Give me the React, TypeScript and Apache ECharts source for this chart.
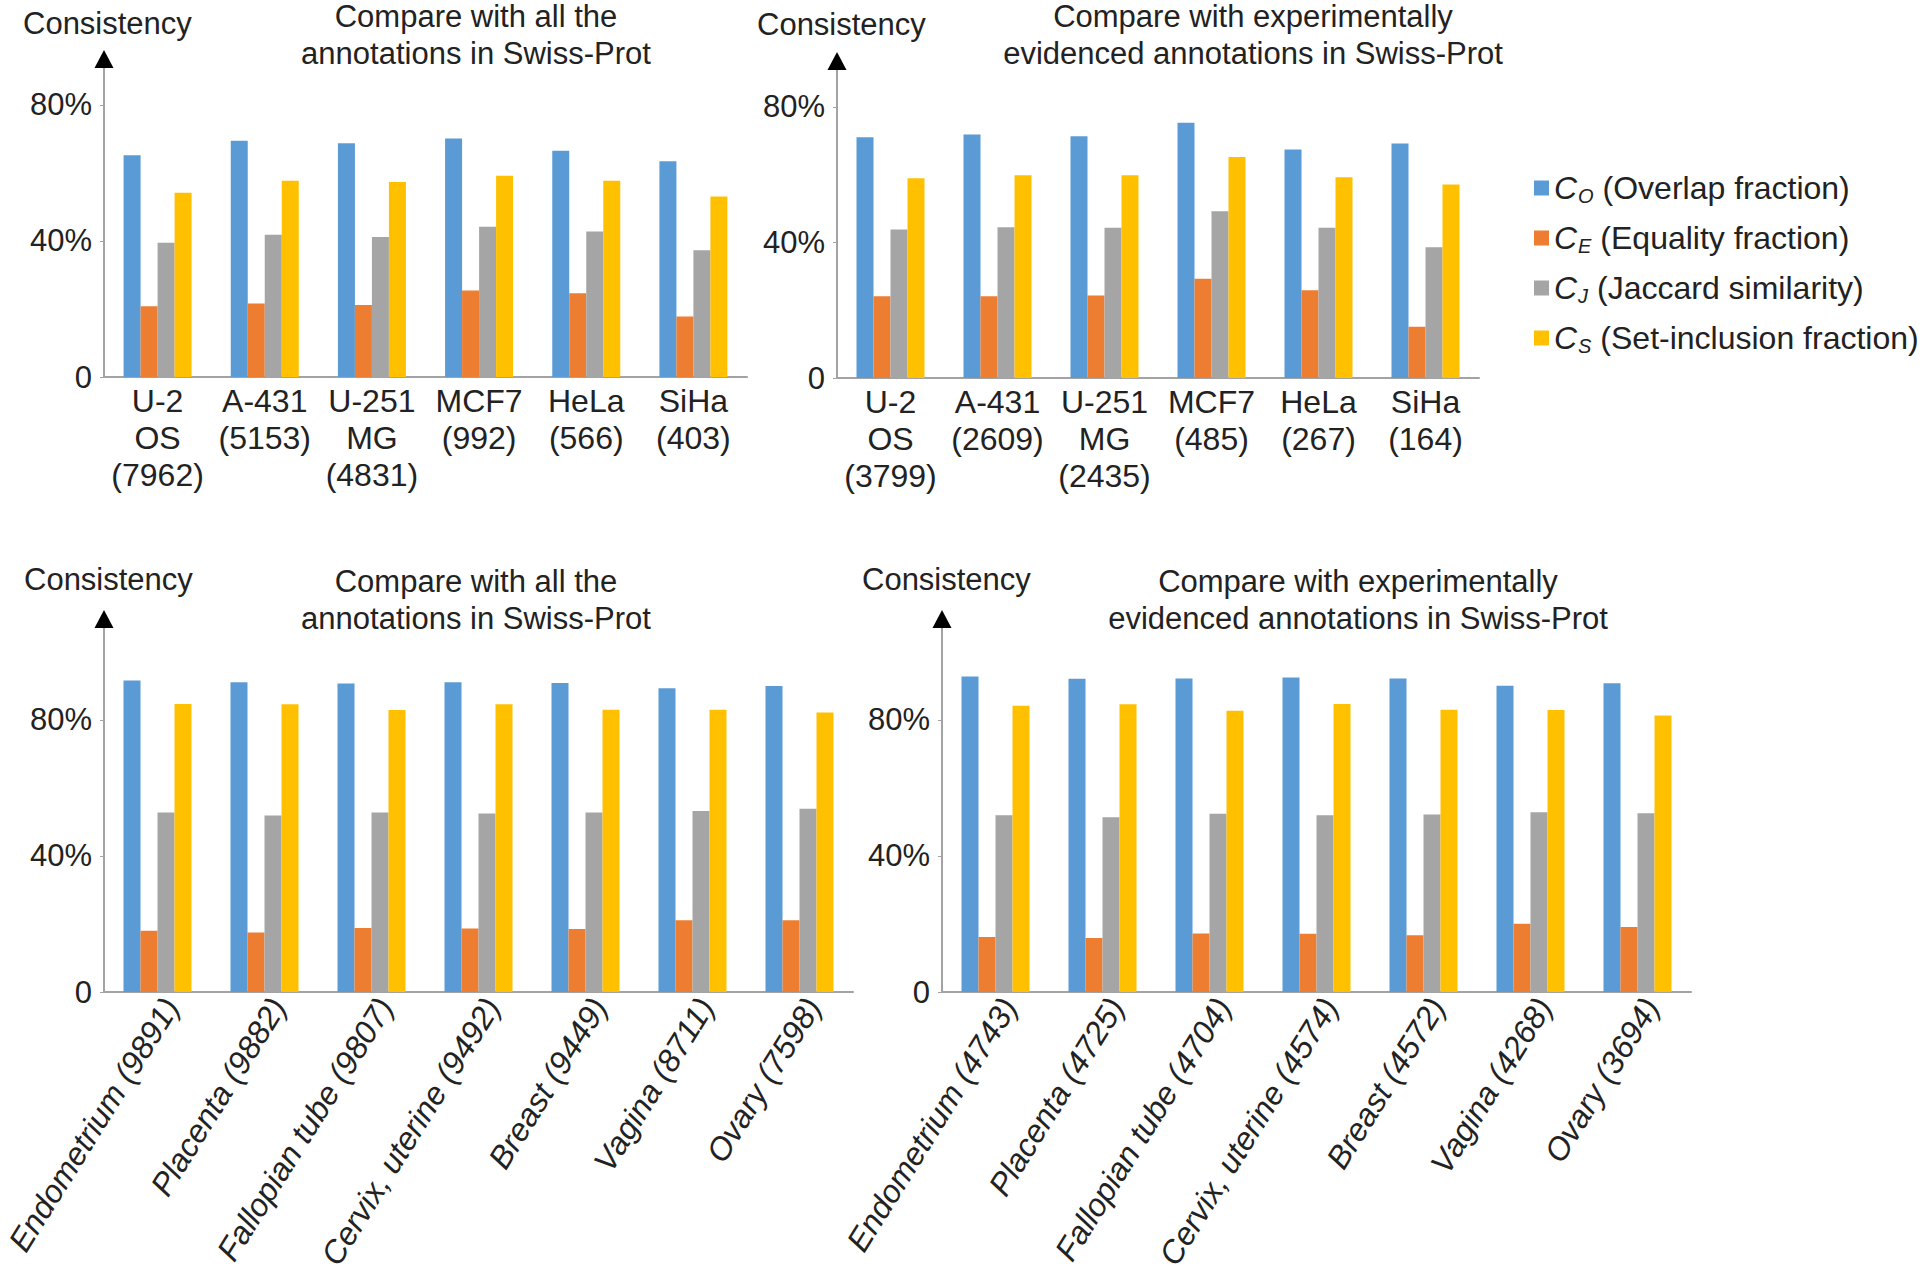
import React, { useEffect, useRef } from "react";
import * as echarts from "echarts";

// ---------- data ----------
const cellLinesAll = ["U-2\nOS\n(7962)", "A-431\n(5153)", "U-251\nMG\n(4831)", "MCF7\n(992)", "HeLa\n(566)", "SiHa\n(403)"];
const cellLinesExp = ["U-2\nOS\n(3799)", "A-431\n(2609)", "U-251\nMG\n(2435)", "MCF7\n(485)", "HeLa\n(267)", "SiHa\n(164)"];
const tissuesAll = ["Endometrium (9891)", "Placenta (9882)", "Fallopian tube (9807)", "Cervix, uterine (9492)", "Breast (9449)", "Vagina (8711)", "Ovary (7598)"];
const tissuesExp = ["Endometrium (4743)", "Placenta (4725)", "Fallopian tube (4704)", "Cervix, uterine (4574)", "Breast (4572)", "Vagina (4268)", "Ovary (3694)"];

// panel 1: cell lines vs all annotations
const overlap1 = [65.2, 69.5, 68.7, 70.1, 66.5, 63.4];
const equality1 = [20.8, 21.6, 21.2, 25.4, 24.6, 17.8];
const jaccard1 = [39.5, 41.8, 41.2, 44.2, 42.8, 37.3];
const inclusion1 = [54.2, 57.7, 57.3, 59.2, 57.7, 53.1];
// panel 2: cell lines vs experimentally evidenced
const overlap2 = [71.0, 71.8, 71.3, 75.3, 67.4, 69.2];
const equality2 = [24.1, 24.1, 24.3, 29.3, 25.9, 15.1];
const jaccard2 = [43.8, 44.5, 44.3, 49.2, 44.3, 38.6];
const inclusion2 = [58.9, 59.8, 59.8, 65.2, 59.2, 57.1];
// panel 3: tissues vs all annotations
const overlap3 = [91.6, 91.1, 90.7, 91.1, 90.9, 89.3, 90.0];
const equality3 = [18.0, 17.5, 18.8, 18.7, 18.5, 21.1, 21.1];
const jaccard3 = [52.8, 51.9, 52.8, 52.5, 52.8, 53.2, 53.9];
const inclusion3 = [84.7, 84.6, 82.9, 84.6, 83.0, 83.0, 82.2];
// panel 4: tissues vs experimentally evidenced
const overlap4 = [92.8, 92.1, 92.2, 92.5, 92.2, 90.1, 90.8];
const equality4 = [16.2, 15.9, 17.2, 17.1, 16.7, 20.1, 19.1];
const jaccard4 = [52.0, 51.4, 52.4, 52.0, 52.2, 52.9, 52.6];
const inclusion4 = [84.2, 84.6, 82.7, 84.7, 83.0, 82.9, 81.3];

const yTicks = [0, 40, 80];
const legendSubs = ["O", "E", "J", "S"];
const legendDescs = ["(Overlap fraction)", "(Equality fraction)", "(Jaccard similarity)", "(Set-inclusion fraction)"];
const titleAll = ["Compare with all the", "annotations in Swiss-Prot"];
const titleExp = ["Compare with experimentally", "evidenced annotations in Swiss-Prot"];
const yName = "Consistency";

// ---------- styles / layout ----------
const COLORS = ["#5B9BD5", "#ED7D31", "#A5A5A5", "#FFC000"];
const FONT = "'Liberation Sans', Arial, Helvetica, sans-serif";
const TEXT = "#222222";
const AXIS = "#A3A3A3";

const panels = [
  { left: 104, top: 59, width: 643, height: 318, max: 93.5, cats: cellLinesAll, vals: [overlap1, equality1, jaccard1, inclusion1], rotate: 0, title: titleAll, titleX: 476, titleY: 16, nameX: 23, nameY: 23 },
  { left: 837, top: 61, width: 642, height: 317, max: 93.5, cats: cellLinesExp, vals: [overlap2, equality2, jaccard2, inclusion2], rotate: 0, title: titleExp, titleX: 1253, titleY: 16, nameX: 757, nameY: 24 },
  { left: 104, top: 619, width: 749, height: 373, max: 109.7, cats: tissuesAll, vals: [overlap3, equality3, jaccard3, inclusion3], rotate: 58, title: titleAll, titleX: 476, titleY: 581, nameX: 24, nameY: 579 },
  { left: 942, top: 619, width: 749, height: 373, max: 109.7, cats: tissuesExp, vals: [overlap4, equality4, jaccard4, inclusion4], rotate: 58, title: titleExp, titleX: 1358, titleY: 581, nameX: 862, nameY: 579 },
];

const seriesName = (i: number) => `C${legendSubs[i]} ${legendDescs[i]}`;

export default function App() {
  const ref = useRef<HTMLDivElement>(null);

  useEffect(() => {
    if (!ref.current) return;
    const chart = echarts.init(ref.current, undefined, { renderer: "svg" });

    const grid = panels.map((p) => ({
      left: p.left,
      top: p.top,
      width: p.width,
      height: p.height,
      containLabel: false,
      outerBoundsMode: "none",
    }));

    const xAxis = panels.map((p, i) => ({
      type: "category",
      gridIndex: i,
      data: p.cats,
      axisLine: { show: true, lineStyle: { color: AXIS, width: 2 } },
      axisTick: { show: false },
      axisLabel: p.rotate
        ? { interval: 0, rotate: p.rotate, fontSize: 32, fontStyle: "italic", fontFamily: FONT, color: TEXT, margin: 31, padding: [0, -26, 0, 0] }
        : { interval: 0, fontSize: 32, lineHeight: 37, fontFamily: FONT, color: TEXT, margin: 5 },
      splitLine: { show: false },
    }));

    const yAxis = panels.map((p, i) => ({
      type: "value",
      gridIndex: i,
      min: 0,
      max: p.max,
      interval: 40,
      axisLine: { show: true, lineStyle: { color: AXIS, width: 2 } },
      axisTick: { show: true, length: 4, lineStyle: { color: AXIS }, customValues: yTicks },
      axisLabel: {
        fontSize: 31,
        fontFamily: FONT,
        color: TEXT,
        margin: 12,
        customValues: yTicks,
        formatter: (v: number) => (v === 0 ? "0" : yTicks.includes(v) ? `${v}%` : ""),
      },
      splitLine: { show: false },
    }));

    const series: any[] = [];
    panels.forEach((p, pi) => {
      p.vals.forEach((vals, si) => {
        series.push({
          type: "bar",
          name: seriesName(si),
          xAxisIndex: pi,
          yAxisIndex: pi,
          data: vals,
          barWidth: 17,
          barGap: "0%",
          itemStyle: { color: COLORS[si] },
        });
      });
    });

    const graphic: any[] = [];
    panels.forEach((p) => {
      // arrow head of the y axis
      graphic.push({
        type: "polygon",
        shape: { points: [[p.left - 9.5, p.top + 9], [p.left + 9.5, p.top + 9], [p.left, p.top - 9]] },
        style: { fill: "#000" },
        z: 10,
      });
      graphic.push({
        type: "text",
        x: p.nameX,
        y: p.nameY,
        style: { text: yName, fontSize: 31, fontFamily: FONT, fill: TEXT, textAlign: "left", textVerticalAlign: "middle" },
      });
      p.title.forEach((line, li) => {
        graphic.push({
          type: "text",
          x: p.titleX,
          y: p.titleY + li * 37,
          style: { text: line, fontSize: 31, fontFamily: FONT, fill: TEXT, textAlign: "center", textVerticalAlign: "middle" },
        });
      });
    });

    chart.setOption({
      animation: false,
      backgroundColor: "#ffffff",
      grid,
      xAxis,
      yAxis,
      series,
      graphic,
      legend: {
        orient: "vertical",
        left: 1529,
        top: 165,
        itemWidth: 15,
        itemHeight: 15,
        itemGap: 14,
        icon: "rect",
        selectedMode: false,
        data: legendSubs.map((_, i) => seriesName(i)),
        formatter: (name: string) => `{c|C}{s|${name.slice(1, 2)}}{t|${name.slice(2)}}`,
        textStyle: {
          color: TEXT,
          fontFamily: FONT,
          fontSize: 32,
          rich: {
            c: { fontSize: 32, fontStyle: "italic", fontFamily: FONT, color: TEXT, lineHeight: 36 },
            s: { fontSize: 20, fontStyle: "italic", fontFamily: FONT, color: TEXT, lineHeight: 20, padding: [16, 0, 0, 1] },
            t: { fontSize: 32, fontFamily: FONT, color: TEXT, lineHeight: 36 },
          },
        },
      },
    } as any);

    return () => chart.dispose();
  }, []);

  return (
    <div
      ref={ref}
      style={{ position: "fixed", left: 0, top: 0, width: 1923, height: 1286, background: "#fff" }}
    />
  );
}
